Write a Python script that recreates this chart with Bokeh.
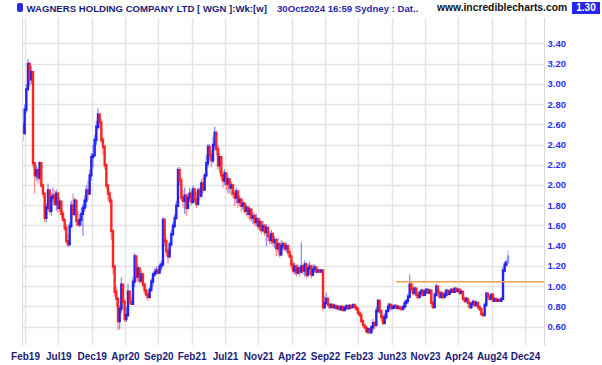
from bokeh.plotting import figure
from bokeh.layouts import column
from bokeh.models import (FixedTicker, PrintfTickFormatter, LinearAxis, Div,
                          ColumnDataSource, Range1d)
from bokeh.embed import file_html
from bokeh.resources import INLINE

# ---------------- data (weekly bars) ----------------
first_open = 2.60
closes = [
    2.52, 2.75, 2.95, 3.20, 3.05, 3.12, 2.22, 2.10, 2.15, 2.08,
    2.22, 2.00, 1.92, 1.68, 1.78, 1.95, 1.75, 1.88, 1.90, 1.82,
    1.92, 1.78, 1.84, 1.72, 1.66, 1.58, 1.45, 1.42, 1.60, 1.80,
    1.72, 1.85, 1.65, 1.62, 1.66, 1.72, 1.78, 1.85, 1.95, 1.92,
    2.10, 2.28, 2.30, 2.45, 2.58, 2.70, 2.62, 2.45, 2.38, 2.20,
    2.00, 1.92, 1.85, 1.55, 1.20, 0.95, 0.88, 0.66, 0.78, 1.02,
    0.85, 0.68, 0.72, 0.95, 0.85, 0.83, 1.05, 1.30, 1.10, 1.18,
    1.06, 1.12, 1.02, 0.96, 0.92, 0.90, 0.97, 1.05, 1.12, 1.14,
    1.16, 1.14, 1.20, 1.22, 1.66, 1.45, 1.35, 1.30, 1.42, 1.52,
    1.60, 1.68, 1.80, 2.15, 2.05, 1.88, 1.85, 1.90, 1.78, 1.88,
    1.92, 1.84, 1.96, 1.86, 1.82, 1.95, 1.90, 2.02, 1.96, 2.10,
    2.22, 2.38, 2.30, 2.25, 2.40, 2.52, 2.36, 2.20, 2.28, 2.10,
    2.05, 2.12, 2.02, 2.06, 1.98, 2.00, 1.92, 1.88, 1.94, 1.84,
    1.86, 1.80, 1.82, 1.75, 1.78, 1.72, 1.76, 1.68, 1.70, 1.64,
    1.67, 1.60, 1.64, 1.56, 1.60, 1.54, 1.58, 1.50, 1.46, 1.52,
    1.44, 1.46, 1.38, 1.42, 1.32, 1.40, 1.42, 1.38, 1.40, 1.34,
    1.30, 1.22, 1.16, 1.20, 1.14, 1.18, 1.15, 1.20, 1.16, 1.22,
    1.12, 1.18, 1.20, 1.12, 1.17, 1.19, 1.15, 1.16, 1.15, 1.16,
    0.80, 0.84, 0.88, 0.82, 0.80, 0.82, 0.80, 0.81, 0.79, 0.80,
    0.78, 0.80, 0.77, 0.79, 0.81, 0.79, 0.81, 0.80, 0.82, 0.80,
    0.78, 0.74, 0.72, 0.66, 0.62, 0.60, 0.56, 0.58, 0.55, 0.60,
    0.64, 0.62, 0.76, 0.86, 0.76, 0.70, 0.64, 0.70, 0.76, 0.80,
    0.82, 0.79, 0.80, 0.81, 0.79, 0.80, 0.79, 0.78, 0.80, 0.84,
    0.86, 0.90, 1.02, 0.98, 0.94, 0.98, 0.92, 0.90, 0.94, 0.96,
    0.92, 0.95, 0.97, 0.94, 0.96, 0.84, 0.80, 0.92, 1.00, 0.94,
    0.90, 0.93, 0.90, 0.92, 0.96, 0.93, 0.95, 0.97, 0.95, 0.98,
    0.96, 0.97, 0.94, 0.95, 0.88, 0.86, 0.88, 0.84, 0.80, 0.83,
    0.85, 0.82, 0.84, 0.80, 0.78, 0.73, 0.72, 0.82, 0.93, 0.90,
    0.88, 0.92, 0.86, 0.88, 0.86, 0.87, 0.86, 0.88, 1.16, 1.22,
    1.24, 1.30,
]
highs = [
    2.64, 2.80, 3.00, 3.25, 3.22, 3.18, 3.12, 2.22, 2.20, 2.18,
    2.24, 2.22, 2.02, 1.92, 1.82, 2.02, 1.95, 1.92, 1.98, 1.95,
    1.96, 1.94, 1.88, 1.85, 1.75, 1.68, 1.62, 1.52, 1.64, 1.85,
    1.92, 1.88, 1.82, 1.75, 1.72, 1.78, 1.82, 1.90, 2.00, 2.05,
    2.15, 2.32, 2.40, 2.50, 2.64, 2.76, 2.72, 2.66, 2.48, 2.40,
    2.22, 2.02, 1.95, 1.88, 1.55, 1.20, 1.00, 0.90, 0.82, 1.09,
    1.02, 0.88, 0.80, 1.03, 0.96, 0.90, 1.10, 1.33, 1.26, 1.22,
    1.18, 1.16, 1.08, 1.04, 0.98, 0.96, 1.00, 1.08, 1.14, 1.18,
    1.20, 1.20, 1.23, 1.26, 1.69, 1.68, 1.48, 1.38, 1.45, 1.56,
    1.64, 1.72, 1.85, 2.18, 2.18, 2.08, 1.95, 1.98, 1.92, 1.92,
    1.98, 1.96, 2.00, 1.98, 1.94, 1.98, 1.98, 2.06, 2.08, 2.12,
    2.30, 2.41, 2.41, 2.35, 2.48, 2.58, 2.54, 2.40, 2.32, 2.28,
    2.15, 2.16, 2.12, 2.10, 2.06, 2.04, 2.02, 1.95, 1.98, 1.94,
    1.90, 1.88, 1.86, 1.84, 1.82, 1.80, 1.79, 1.76, 1.74, 1.72,
    1.72, 1.68, 1.68, 1.64, 1.65, 1.62, 1.62, 1.60, 1.55, 1.56,
    1.54, 1.50, 1.48, 1.48, 1.44, 1.46, 1.45, 1.44, 1.44, 1.42,
    1.38, 1.32, 1.26, 1.24, 1.22, 1.22, 1.20, 1.44, 1.22, 1.26,
    1.24, 1.23, 1.25, 1.22, 1.22, 1.22, 1.20, 1.18, 1.17, 1.17,
    1.16, 0.90, 0.94, 0.90, 0.84, 0.84, 0.83, 0.83, 0.82, 0.82,
    0.81, 0.82, 0.81, 0.81, 0.82, 0.82, 0.83, 0.82, 0.83, 0.83,
    0.81, 0.80, 0.76, 0.73, 0.68, 0.63, 0.61, 0.60, 0.59, 0.62,
    0.68, 0.66, 0.80, 0.88, 0.87, 0.77, 0.72, 0.74, 0.77, 0.84,
    0.84, 0.82, 0.82, 0.83, 0.82, 0.82, 0.81, 0.80, 0.82, 0.86,
    0.87, 0.93, 1.12, 1.06, 1.03, 1.00, 0.99, 0.95, 0.96, 0.98,
    0.97, 0.98, 0.98, 0.98, 0.98, 0.92, 0.86, 0.94, 1.03, 1.00,
    0.96, 0.96, 0.95, 0.96, 0.98, 0.97, 0.97, 0.98, 0.98, 0.99,
    0.98, 0.98, 0.97, 0.97, 0.94, 0.90, 0.90, 0.88, 0.86, 0.85,
    0.87, 0.86, 0.86, 0.82, 0.81, 0.78, 0.76, 0.84, 0.95, 0.94,
    0.92, 0.93, 0.92, 0.89, 0.88, 0.88, 0.88, 0.89, 1.20, 1.25,
    1.26, 1.36,
]
lows = [
    2.44, 2.50, 2.72, 2.95, 2.98, 3.00, 2.18, 1.92, 2.05, 2.02,
    2.05, 1.98, 1.88, 1.64, 1.64, 1.76, 1.72, 1.70, 1.84, 1.80,
    1.75, 1.73, 1.74, 1.68, 1.64, 1.55, 1.42, 1.39, 1.42, 1.58,
    1.69, 1.70, 1.60, 1.59, 1.59, 1.60, 1.50, 1.74, 1.78, 1.86,
    1.95, 2.05, 2.18, 2.28, 2.40, 2.55, 2.56, 2.42, 2.30, 2.16,
    1.96, 1.86, 1.82, 1.46, 1.12, 0.90, 0.80, 0.57, 0.58, 0.74,
    0.78, 0.65, 0.65, 0.70, 0.83, 0.82, 0.86, 1.00, 1.05, 1.05,
    1.03, 1.04, 0.98, 0.92, 0.88, 0.86, 0.88, 0.95, 1.00, 1.10,
    1.12, 1.12, 1.13, 1.16, 1.22, 1.40, 1.30, 1.23, 1.28, 1.40,
    1.50, 1.58, 1.66, 1.80, 2.00, 1.85, 1.78, 1.72, 1.70, 1.76,
    1.84, 1.80, 1.82, 1.83, 1.78, 1.80, 1.85, 1.88, 1.92, 1.95,
    2.08, 2.18, 2.25, 2.18, 2.22, 2.35, 2.30, 2.15, 2.12, 2.05,
    1.98, 2.00, 1.95, 1.92, 1.92, 1.90, 1.88, 1.80, 1.82, 1.78,
    1.80, 1.74, 1.76, 1.72, 1.70, 1.68, 1.66, 1.64, 1.62, 1.60,
    1.60, 1.56, 1.55, 1.52, 1.54, 1.50, 1.40, 1.45, 1.42, 1.42,
    1.40, 1.38, 1.30, 1.34, 1.29, 1.30, 1.36, 1.35, 1.34, 1.30,
    1.28, 1.18, 1.13, 1.12, 1.10, 1.12, 1.10, 1.13, 1.12, 1.10,
    1.08, 1.09, 1.12, 1.08, 1.10, 1.14, 1.13, 1.14, 1.13, 1.14,
    0.76, 0.78, 0.82, 0.80, 0.78, 0.79, 0.78, 0.78, 0.77, 0.77,
    0.76, 0.76, 0.76, 0.76, 0.77, 0.77, 0.78, 0.78, 0.79, 0.78,
    0.76, 0.72, 0.70, 0.64, 0.59, 0.58, 0.54, 0.53, 0.54, 0.55,
    0.56, 0.58, 0.62, 0.74, 0.73, 0.66, 0.63, 0.66, 0.68, 0.75,
    0.76, 0.77, 0.78, 0.78, 0.78, 0.78, 0.77, 0.77, 0.77, 0.79,
    0.80, 0.83, 0.90, 0.94, 0.91, 0.92, 0.88, 0.87, 0.88, 0.90,
    0.90, 0.91, 0.92, 0.93, 0.93, 0.80, 0.78, 0.80, 0.90, 0.90,
    0.88, 0.88, 0.87, 0.88, 0.90, 0.90, 0.92, 0.94, 0.94, 0.94,
    0.94, 0.94, 0.92, 0.92, 0.86, 0.84, 0.84, 0.80, 0.78, 0.78,
    0.80, 0.80, 0.80, 0.77, 0.76, 0.71, 0.70, 0.72, 0.80, 0.87,
    0.86, 0.87, 0.85, 0.85, 0.85, 0.85, 0.85, 0.85, 0.88, 1.14,
    1.20, 1.23,
]
x_tick_labels = ["Feb19", "Jul19", "Dec19", "Apr20", "Sep20", "Feb21", "Jul21",
                 "Nov21", "Apr22", "Sep22", "Feb23", "Jun23", "Nov23", "Apr24",
                 "Aug24", "Dec24"]
x_tick_first = 1.5       # bar position of the first label
x_tick_step = 20         # bars between labels
y_ticks = [0.60, 0.80, 1.00, 1.20, 1.40, 1.60, 1.80, 2.00, 2.20, 2.40,
           2.60, 2.80, 3.00, 3.20, 3.40]
resistance_level = 1.05
resistance_start = 224
last_price = "1.30"

title_main = "WAGNERS HOLDING COMPANY LTD [ WGN ]:Wk:[w]"
title_time = "30Oct2024 16:59 Sydney : Dat.."
site = "www.incrediblecharts.com"

# ---------------- style ----------------
BLUE = "#2222f2"
RED = "#ff2424"
NAVY = "#1c1c78"
FONT = "Liberation Sans"
HEADER_H = 15

# ---------------- header strip (HTML text) ----------------
span = ("position:absolute;white-space:nowrap;font-family:'Liberation Sans',Arial,sans-serif;"
        "font-weight:bold;")
header_html = (
    f'<div style="position:relative;width:602px;height:{HEADER_H}px;background:white;overflow:hidden">'
    '<span style="position:absolute;left:17px;top:3px;width:6px;height:9px;'
    'background:#2a2ae0;border-radius:2px"></span>'
    f'<span style="{span}left:26.5px;top:1.5px;font-size:9.6px;color:{NAVY}">{title_main}</span>'
    f'<span style="{span}left:277px;top:1.5px;font-size:9.6px;color:#2828a8">{title_time}</span>'
    f'<span style="{span}left:437px;top:1px;font-size:10.3px;color:#111111">{site}</span>'
    f'<span style="{span}left:572px;top:1.5px;width:28px;height:12px;line-height:12px;'
    f'text-align:center;font-size:10px;color:white;background:#2626e8">{last_price}</span>'
    '</div>'
)
hdr = Div(text=header_html, width=602, height=HEADER_H, margin=(0, 0, 0, 0))

# ---------------- main chart ----------------
n = min(len(closes), len(highs), len(lows))
closes, highs, lows = closes[:n], highs[:n], lows[:n]
opens = [first_open] + closes[:-1]
idx = list(range(n))
cols = [BLUE if closes[i] >= opens[i] else RED for i in range(n)]
cols[-1] = "#8c8cf6"

src = ColumnDataSource(dict(x=idx, o=opens, h=highs, l=lows, c=closes, col=cols))

p = figure(width=602, height=365 - HEADER_H, output_backend="svg", toolbar_location=None,
           x_range=Range1d(-0.3, 312.9), y_range=Range1d(0.419, 3.66),
           min_border_left=22, min_border_right=58, min_border_top=2,
           min_border_bottom=20, y_axis_location="right",
           background_fill_color="white", border_fill_color="white",
           margin=(0, 0, 0, 0))
p.outline_line_color = None

xticks = [x_tick_first + x_tick_step * k for k in range(len(x_tick_labels))]

# grid
p.xgrid.ticker = FixedTicker(ticks=xticks)
p.ygrid.ticker = FixedTicker(ticks=y_ticks)
for g in (p.xgrid, p.ygrid):
    g.grid_line_color = "#e4e4e4"
    g.grid_line_width = 1.5

# bars: thin high-low wick, thick open-close body
p.segment(x0="x", y0="l", x1="x", y1="h", source=src, line_color="col",
          line_width=1.2, line_alpha=0.55)
p.segment(x0="x", y0="o", x1="x", y1="c", source=src, line_color="col",
          line_width=2.4, line_cap="square")

# resistance line
p.ray(x=[resistance_start], y=[resistance_level], length=0, angle=0,
      line_color="#f0a050", line_width=1.5)

# x axis
xa = p.xaxis[0]
xa.ticker = FixedTicker(ticks=xticks)
xa.major_label_overrides = {t: lab for t, lab in zip(xticks, x_tick_labels)}
xa.axis_line_color = None
xa.major_tick_line_color = None
xa.minor_tick_line_color = None
xa.major_tick_out = 0
xa.major_tick_in = 0
xa.major_label_text_font = FONT
xa.major_label_text_font_style = "bold"
xa.major_label_text_font_size = "10px"
xa.major_label_text_color = NAVY
xa.major_label_standoff = 5

# y axis (right)
ya = p.yaxis[0]
ya.ticker = FixedTicker(ticks=y_ticks)
ya.formatter = PrintfTickFormatter(format="%.2f")
ya.axis_line_color = "#d8d8d8"
ya.major_tick_line_color = None
ya.minor_tick_line_color = None
ya.major_tick_out = 0
ya.major_tick_in = 0
ya.major_label_text_font = FONT
ya.major_label_text_font_style = "bold"
ya.major_label_text_font_size = "9.5px"
ya.major_label_text_color = "#2e2ef0"
ya.major_label_standoff = 3

# left border line (axis with no ticks)
la = LinearAxis(ticker=FixedTicker(ticks=[]), axis_line_color="#d8d8d8",
                major_tick_line_color=None, minor_tick_line_color=None,
                major_tick_out=0, major_tick_in=0, major_label_standoff=0)
p.add_layout(la, "left")

layout = column(hdr, p, spacing=0, margin=(0, 0, 0, 0))
html = file_html(layout, INLINE, title="WGN")
html = html.replace("<body>", '<body style="margin:0;overflow:hidden">', 1)
open("out.html", "w").write(html)
